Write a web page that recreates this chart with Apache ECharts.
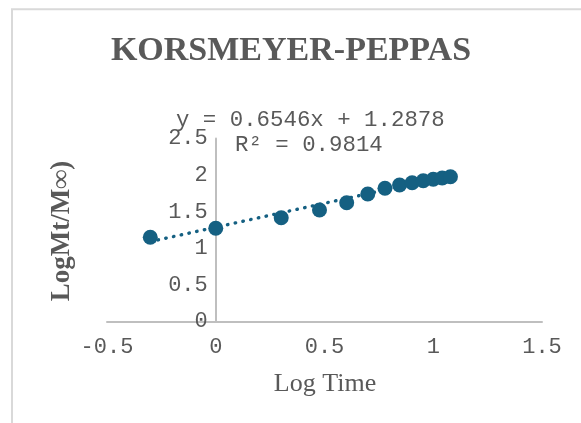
<!DOCTYPE html>
<html>
<head>
<meta charset="utf-8">
<title>KORSMEYER-PEPPAS</title>
<script src="https://cdn.jsdelivr.net/npm/echarts@6/dist/echarts.min.js"></script>
<style>
  html, body { margin: 0; padding: 0; background: #ffffff; }
  #chart { width: 581px; height: 423px; }
</style>
</head>
<body>
<div id="chart"></div>
<script>
// Log time (x) and log fraction released (y) for each sampling point
const logTime = [-0.301, 0, 0.301, 0.477, 0.602, 0.699, 0.778, 0.845, 0.903, 0.954, 1.0, 1.041, 1.079];
const logRelease = [1.150, 1.273, 1.418, 1.523, 1.623, 1.742, 1.820, 1.865, 1.896, 1.923, 1.943, 1.960, 1.978];

// Linear trendline coefficients as printed on the chart
const slope = 0.6546;
const intercept = 1.2878;
const rSquared = 0.9814;

const xTicks = [-0.5, 0, 0.5, 1, 1.5];
const yTicks = [0, 0.5, 1, 1.5, 2, 2.5];

const points = logTime.map((x, i) => [x, logRelease[i]]);
const xFirst = Math.min(...logTime);
const xLast = Math.max(...logTime);
const trend = [
  [xFirst, slope * xFirst + intercept],
  [xLast, slope * xLast + intercept]
];

const gray = '#595959';
const axisGray = '#bfbfbf';
const mono = '"Liberation Mono", "DejaVu Sans Mono", monospace';
const serif = '"Liberation Serif", "DejaVu Serif", serif';
const markColor = '#156082';

const W = 581, H = 423;
const grid = { left: 107, right: 39, top: 138.5, bottom: 101.5 };
const xMin = xTicks[0], xMax = xTicks[xTicks.length - 1];
// shift the vertical axis (line and labels) so it crosses at x = 0
const yAxisShift = (0 - xMin) / (xMax - xMin) * (W - grid.left - grid.right);

const chart = echarts.init(document.getElementById('chart'), null, { renderer: 'canvas' });

chart.setOption({
  animation: false,
  backgroundColor: '#ffffff',
  grid: Object.assign({ containLabel: false }, grid),
  xAxis: {
    type: 'value',
    min: xMin,
    max: xMax,
    interval: 0.5,
    axisLine: { onZero: false, lineStyle: { color: axisGray, width: 2 } },
    axisTick: { show: false },
    splitLine: { show: false },
    axisLabel: {
      color: gray, fontFamily: mono, fontSize: 22, margin: 15,
      formatter: v => String(v)
    }
  },
  yAxis: {
    type: 'value',
    min: yTicks[0],
    max: yTicks[yTicks.length - 1],
    interval: 0.5,
    offset: -yAxisShift,
    axisLine: { onZero: false, lineStyle: { color: axisGray, width: 2 } },
    axisTick: { show: false },
    splitLine: { show: false },
    axisLabel: {
      color: gray, fontFamily: mono, fontSize: 22, margin: 8,
      formatter: v => String(v)
    }
  },
  series: [
    {
      name: 'Linear trend',
      type: 'line',
      data: trend,
      symbol: 'none',
      z: 1,
      lineStyle: { color: markColor, width: 3.4, type: [0.5, 7.4], cap: 'round' }
    },
    {
      name: 'LogMt/M∞',
      type: 'scatter',
      data: points,
      symbol: 'circle',
      symbolSize: 15,
      z: 2,
      itemStyle: { color: markColor, opacity: 1 }
    }
  ],
  graphic: [
    {
      type: 'rect',
      shape: { x: 12, y: 9.3, width: 640, height: 500 },
      style: { fill: 'none', stroke: '#d9d9d9', lineWidth: 2 },
      silent: true
    },
    {
      type: 'text',
      x: 291, y: 51,
      style: {
        text: 'KORSMEYER-PEPPAS',
        fill: gray, font: 'bold 34px ' + serif,
        textAlign: 'center', textVerticalAlign: 'middle'
      }
    },
    {
      type: 'text',
      x: 176, y: 120,
      style: {
        text: 'y = ' + slope + 'x + ' + intercept,
        fill: gray, font: '22.4px ' + mono,
        textAlign: 'left', textVerticalAlign: 'middle'
      }
    },
    {
      type: 'text',
      x: 235, y: 145,
      style: {
        text: 'R² = ' + rSquared,
        fill: gray, font: '22.4px ' + mono,
        textAlign: 'left', textVerticalAlign: 'middle'
      }
    },
    {
      type: 'text',
      x: 325, y: 384,
      style: {
        text: 'Log Time',
        fill: gray, font: '26px ' + serif,
        textAlign: 'center', textVerticalAlign: 'middle'
      }
    },
    {
      type: 'text',
      x: 62, y: 231,
      rotation: Math.PI / 2,
      style: {
        text: 'LogMt/M∞)',
        fill: gray, font: 'bold 27px ' + serif,
        textAlign: 'center', textVerticalAlign: 'middle'
      }
    }
  ]
});
</script>
</body>
</html>
